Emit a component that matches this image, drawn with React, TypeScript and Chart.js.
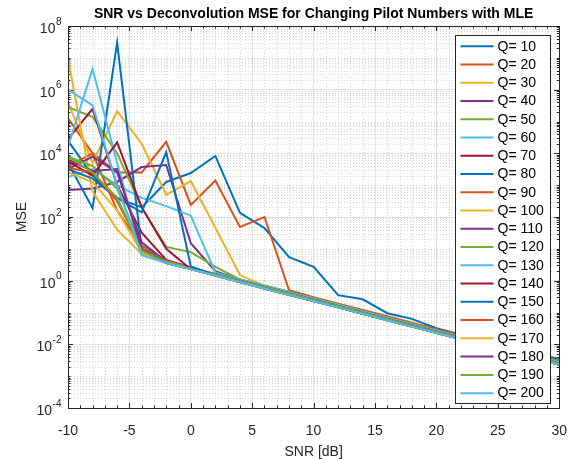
import React, { useEffect, useRef } from "react";
import { Chart, registerables } from "chart.js";

Chart.register(...registerables);

const snrDb = [-10, -8, -6, -4, -2, 0, 2, 4, 6, 8, 10, 12, 14, 16, 18, 20, 22, 24, 26, 28, 30];

const q10 = [2.5e4, 2.0e3, 4.0e2, 2.0e2, 1.26e3, 2.4e3, 8.3e3, 1.35e2, 45, 5.5, 2.7, 0.35, 0.26, 0.095, 0.063, 0.032, 0.02, 0.0126, 0.0079, 0.005, 0.0035];
const q20 = [1.26e5, 1.0e4, 2.5e3, 2.5e3, 2.3e4, 2.4e2, 1.4e3, 49, 100, 0.5, 0.3, 0.19, 0.12, 0.076, 0.048, 0.03, 0.019, 0.012, 0.0076, 0.0048, 0.003];
const q30 = [4.0e5, 5.0e3, 2.1e5, 2.0e4, 5.0e2, 1.35e3, 46, 1.5, 0.69, 0.44, 0.275, 0.175, 0.11, 0.069, 0.044, 0.0275, 0.0175, 0.011, 0.0069, 0.0044, 0.00275];
const q40 = [7.1e2, 7.9e2, 1.26e3, 3.7e3, 4.3e3, 15, 2.0, 1.1, 0.69, 0.44, 0.275, 0.175, 0.11, 0.069, 0.044, 0.0275, 0.0175, 0.011, 0.0069, 0.0044, 0.00275];
const q50 = [2.8e5, 1.4e5, 1.0e4, 2.0e2, 11.5, 7.9, 2.7, 1.1, 0.69, 0.44, 0.275, 0.175, 0.11, 0.069, 0.044, 0.0275, 0.0175, 0.011, 0.0069, 0.0044, 0.00275];
const q60 = [1.8e3, 3.2e3, 1.0e3, 4.0e2, 2.2e2, 1.1e2, 1.8, 1.1, 0.69, 0.44, 0.275, 0.175, 0.11, 0.069, 0.044, 0.0275, 0.0175, 0.011, 0.0069, 0.0044, 0.00275];
const q70 = [2.8e4, 2.5e5, 1.0e3, 32, 4.5, 2.6, 1.6, 1.0, 0.63, 0.4, 0.25, 0.16, 0.1, 0.063, 0.04, 0.025, 0.016, 0.01, 0.0063, 0.004, 0.0025];
const q80 = [5.0e3, 1.9e2, 3.0e7, 10, 4.0, 2.5, 1.6, 1.0, 0.63, 0.4, 0.25, 0.16, 0.1, 0.063, 0.04, 0.025, 0.016, 0.01, 0.0063, 0.004, 0.0025];
const q90 = [4.0e3, 1.0e4, 1.6e2, 12.6, 4.2, 2.5, 1.6, 1.0, 0.63, 0.4, 0.25, 0.16, 0.1, 0.063, 0.04, 0.025, 0.016, 0.01, 0.0063, 0.004, 0.0025];
const q100 = [1.0e7, 6.3e2, 40, 6.9, 4.0, 2.5, 1.6, 1.0, 0.63, 0.4, 0.25, 0.16, 0.1, 0.063, 0.04, 0.025, 0.016, 0.01, 0.0063, 0.004, 0.0025];
const q110 = [3.2e3, 7.9e3, 2.5e3, 16, 4.0, 2.5, 1.6, 1.0, 0.63, 0.4, 0.25, 0.16, 0.1, 0.063, 0.04, 0.025, 0.016, 0.01, 0.0063, 0.004, 0.0025];
const q120 = [7.9e3, 4.0e3, 7.9e2, 10, 4.0, 2.5, 1.6, 1.0, 0.63, 0.4, 0.25, 0.16, 0.1, 0.063, 0.04, 0.025, 0.016, 0.01, 0.0063, 0.004, 0.0025];
const q130 = [1.6e4, 4.5e6, 5.0e3, 7.9, 3.6, 2.3, 1.45, 0.91, 0.57, 0.36, 0.23, 0.145, 0.091, 0.057, 0.036, 0.023, 0.0145, 0.0091, 0.0057, 0.0036, 0.0023];
const q140 = [5.6e3, 2.0e3, 2.2e4, 2.0e2, 10, 2.3, 1.45, 0.91, 0.57, 0.36, 0.23, 0.145, 0.091, 0.057, 0.036, 0.023, 0.0145, 0.0091, 0.0057, 0.0036, 0.0023];
const q150 = [3.2e3, 1.6e3, 4.0e2, 1.4e2, 1.1e4, 2.8, 1.45, 0.91, 0.57, 0.36, 0.23, 0.145, 0.091, 0.057, 0.036, 0.023, 0.0145, 0.0091, 0.0057, 0.0036, 0.0023];
const q160 = [3.5e3, 2.5e3, 3.2e2, 10, 3.6, 2.3, 1.45, 0.91, 0.57, 0.36, 0.23, 0.145, 0.091, 0.057, 0.036, 0.023, 0.0145, 0.0091, 0.0057, 0.0036, 0.0023];
const q170 = [2.5e3, 1.26e3, 1.6e2, 7.9, 3.6, 2.3, 1.45, 0.91, 0.57, 0.36, 0.23, 0.145, 0.091, 0.057, 0.036, 0.023, 0.0145, 0.0091, 0.0057, 0.0036, 0.0023];
const q180 = [6.3e3, 2.8e3, 3.2e3, 10, 3.6, 2.3, 1.45, 0.91, 0.57, 0.36, 0.23, 0.145, 0.091, 0.057, 0.036, 0.023, 0.0145, 0.0091, 0.0057, 0.0036, 0.0023];
const q190 = [7.9e3, 2.5e3, 4.0e2, 8.9, 3.6, 2.3, 1.45, 0.91, 0.57, 0.36, 0.23, 0.145, 0.091, 0.057, 0.036, 0.023, 0.0145, 0.0091, 0.0057, 0.0036, 0.0023];
const q200 = [1.0e6, 3.2e5, 1.0e3, 6.3, 3.6, 2.3, 1.45, 0.91, 0.57, 0.36, 0.23, 0.145, 0.091, 0.057, 0.036, 0.023, 0.0145, 0.0091, 0.0057, 0.0036, 0.0023];

const seriesValues = [q10, q20, q30, q40, q50, q60, q70, q80, q90, q100, q110, q120, q130, q140, q150, q160, q170, q180, q190, q200];
const seriesLabels = ["Q= 10", "Q= 20", "Q= 30", "Q= 40", "Q= 50", "Q= 60", "Q= 70", "Q= 80", "Q= 90", "Q= 100", "Q= 110", "Q= 120", "Q= 130", "Q= 140", "Q= 150", "Q= 160", "Q= 170", "Q= 180", "Q= 190", "Q= 200"];
const palette = ["#0072BD", "#D95319", "#EDB120", "#7E2F8E", "#77AC30", "#4DBEEE", "#A2142F"];

const xTicks = [-10, -5, 0, 5, 10, 15, 20, 25, 30];
const yTicks = [1e-4, 1e-2, 1, 1e2, 1e4, 1e6, 1e8];
const yTickExponents = ["-4", "-2", "0", "2", "4", "6", "8"];

const titleText = "SNR vs Deconvolution MSE for Changing Pilot Numbers with MLE";
const FONT = "'Liberation Sans', Arial, Helvetica, sans-serif";
const AXIS_COLOR = "#262626";

const framePlugin = {
  id: "matlabFrame",
  beforeDatasetsDraw(chart: any) {
    const { ctx, chartArea: a, scales } = chart;
    const xs = scales.x;
    const ys = scales.y;
    ctx.save();
    ctx.lineWidth = 1;
    ctx.strokeStyle = "#d6d6d6";
    ctx.setLineDash([1, 2]);
    for (let v = -10; v <= 30; v += 1) {
      if (v % 5 === 0) continue;
      const px = Math.round(xs.getPixelForValue(v)) + 0.5;
      ctx.beginPath();
      ctx.moveTo(px, a.top);
      ctx.lineTo(px, a.bottom);
      ctx.stroke();
    }
    for (let k = -4; k < 8; k++) {
      for (let m = 1; m <= 9; m++) {
        if (m === 1 && k % 2 === 0) continue;
        const py = Math.round(ys.getPixelForValue(m * Math.pow(10, k))) + 0.5;
        ctx.beginPath();
        ctx.moveTo(a.left, py);
        ctx.lineTo(a.right, py);
        ctx.stroke();
      }
    }
    ctx.setLineDash([]);
    ctx.strokeStyle = AXIS_COLOR;
    for (let v = -10; v <= 30; v += 1) {
      const len = v % 5 === 0 ? 5 : 2.5;
      const px = Math.round(xs.getPixelForValue(v)) + 0.5;
      ctx.beginPath();
      ctx.moveTo(px, a.bottom);
      ctx.lineTo(px, a.bottom - len);
      ctx.moveTo(px, a.top);
      ctx.lineTo(px, a.top + len);
      ctx.stroke();
    }
    for (let k = -4; k <= 8; k++) {
      for (let m = 1; m <= 9; m++) {
        if (k === 8 && m > 1) continue;
        const len = m === 1 && k % 2 === 0 ? 5 : 2.5;
        const py = Math.round(ys.getPixelForValue(m * Math.pow(10, k))) + 0.5;
        ctx.beginPath();
        ctx.moveTo(a.left, py);
        ctx.lineTo(a.left + len, py);
        ctx.moveTo(a.right, py);
        ctx.lineTo(a.right - len, py);
        ctx.stroke();
      }
    }
    ctx.restore();
  },
  afterDatasetsDraw(chart: any) {
    const { ctx, chartArea: a, scales } = chart;
    ctx.save();
    ctx.strokeStyle = AXIS_COLOR;
    ctx.lineWidth = 1;
    ctx.strokeRect(Math.round(a.left) + 0.5, Math.round(a.top) + 0.5, Math.round(a.right - a.left), Math.round(a.bottom - a.top));

    // y tick labels with superscript exponents
    ctx.fillStyle = AXIS_COLOR;
    ctx.textBaseline = "middle";
    ctx.textAlign = "left";
    yTicks.forEach((t, i) => {
      const py = scales.y.getPixelForValue(t);
      const exp = yTickExponents[i];
      ctx.font = `10px ${FONT}`;
      const ew = ctx.measureText(exp).width;
      ctx.font = `14px ${FONT}`;
      const bw = ctx.measureText("10").width;
      const right = a.left - 7;
      const x0 = right - ew - bw;
      ctx.fillText("10", x0, py + 3);
      ctx.font = `10px ${FONT}`;
      ctx.fillText(exp, x0 + bw + 0.5, py - 4);
    });

    // title
    ctx.fillStyle = "#000";
    ctx.font = `bold 14px ${FONT}`;
    ctx.textAlign = "center";
    ctx.textBaseline = "middle";
    ctx.fillText(titleText, (a.left + a.right) / 2, 14);

    // legend
    const boxW = 95;
    const boxH = 368;
    const bx = Math.round(a.right - 9 - boxW) + 0.5;
    const by = Math.round(a.top + 9) + 0.5;
    ctx.fillStyle = "#fff";
    ctx.fillRect(bx, by, boxW, boxH);
    ctx.strokeStyle = AXIS_COLOR;
    ctx.lineWidth = 1;
    ctx.strokeRect(bx, by, boxW, boxH);
    ctx.font = `14px ${FONT}`;
    ctx.textAlign = "left";
    ctx.textBaseline = "middle";
    const step = 18.26;
    chart.data.datasets.forEach((ds: any, i: number) => {
      const cy = by + 10.7 + i * step;
      ctx.strokeStyle = ds.borderColor;
      ctx.lineWidth = 2;
      ctx.beginPath();
      ctx.moveTo(bx + 5, cy);
      ctx.lineTo(bx + 38, cy);
      ctx.stroke();
      ctx.fillStyle = "#000";
      ctx.fillText(ds.label, bx + 42, cy + 0.5);
    });
    ctx.restore();
  },
};

export default function App() {
  const canvasRef = useRef<HTMLCanvasElement | null>(null);

  useEffect(() => {
    const canvas = canvasRef.current;
    if (!canvas) return;
    const chart = new Chart(canvas, {
      type: "line",
      data: {
        datasets: seriesValues.map((vals, i) => ({
          label: seriesLabels[i],
          data: snrDb.map((x, j) => ({ x, y: vals[j] })),
          borderColor: palette[i % palette.length],
          backgroundColor: palette[i % palette.length],
          borderWidth: 2,
          pointRadius: 0,
          tension: 0,
          fill: false,
          order: seriesValues.length - i,
        })),
      },
      options: {
        animation: false,
        responsive: false,
        maintainAspectRatio: false,
        layout: { padding: { left: 0, right: 22, top: 26, bottom: 0 } },
        plugins: {
          legend: { display: false },
          title: { display: false },
          tooltip: { enabled: false },
        },
        scales: {
          x: {
            type: "linear",
            min: -10,
            max: 30,
            afterBuildTicks: (s: any) => {
              s.ticks = xTicks.map((v) => ({ value: v }));
            },
            afterFit: (s: any) => {
              s.height = 52;
            },
            ticks: {
              color: AXIS_COLOR,
              font: { family: FONT, size: 14 },
              padding: 15,
              maxRotation: 0,
              autoSkip: false,
            },
            grid: { color: "#e2e2e2", lineWidth: 1, drawTicks: false },
            border: { display: false },
            title: {
              display: true,
              text: "SNR [dB]",
              color: AXIS_COLOR,
              font: { family: FONT, size: 14 },
              padding: { top: 0, bottom: -1 },
            },
          },
          y: {
            type: "logarithmic",
            min: 1e-4,
            max: 1e8,
            afterBuildTicks: (s: any) => {
              s.ticks = yTicks.map((v) => ({ value: v, major: true }));
            },
            afterFit: (s: any) => {
              s.width = 68;
            },
            ticks: { display: false },
            grid: { color: "#e2e2e2", lineWidth: 1, drawTicks: false },
            border: { display: false },
            title: {
              display: true,
              text: "MSE",
              color: AXIS_COLOR,
              font: { family: FONT, size: 14 },
              padding: { top: 14, bottom: 0 },
            },
          },
        },
      },
      plugins: [framePlugin],
    } as any);
    return () => chart.destroy();
  }, []);

  return (
    <div style={{ position: "fixed", left: 0, top: 0, width: 582, height: 460, background: "#fff" }}>
      <canvas ref={canvasRef} width={582} height={460} style={{ width: 582, height: 460, display: "block" }} />
    </div>
  );
}
